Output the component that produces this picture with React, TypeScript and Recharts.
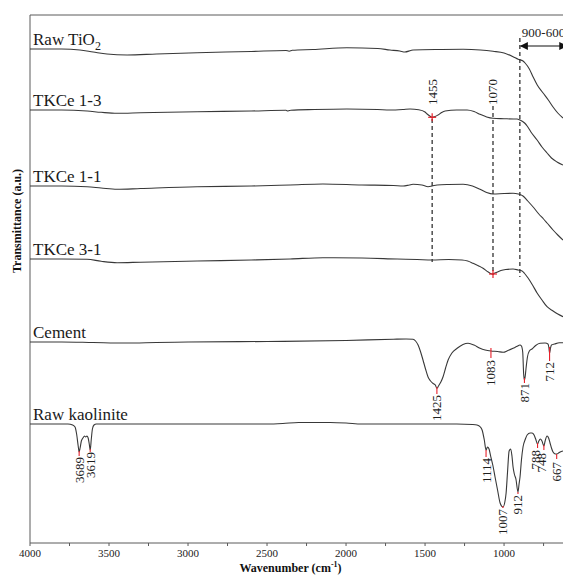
import React from 'react';
import { LineChart, Line, XAxis, YAxis, ReferenceLine, ReferenceDot } from 'recharts';

const FONT = '"Liberation Serif", "Times New Roman", serif';

// ---- data (wavenumber in cm-1, transmittance change in a.u. relative to each baseline) ----
const seriesNames = ['Raw TiO2', 'TKCe 1-3', 'TKCe 1-1', 'TKCe 3-1', 'Cement', 'Raw kaolinite'];
const seriesOffsets = [494, 433, 357, 284, 201, 119];

const tio2Wave = [4000,3800,3684,3600,3513,3386,3200,2943,2600,2380,2360,2340,2209,1994,1800,1722,1660,1627,1590,1576,1400,1259,1150,1070,1000,943,911,880,867,840,816,790,753,720,690,660,627];
const tio2T = [0,0,-1,-3,-5,-6,-5,-3.7,-2.5,-1.5,-2.2,-1.3,-0.5,1.3,0.5,-1,-2,-3,-1.5,-1,-0.5,-0.3,-1,-2.3,-4,-7.7,-10.3,-12,-14,-20,-28,-36,-44,-51,-58,-64,-69];

const tk13Wave = [4000,3800,3639,3550,3449,3300,2943,2600,2380,2367,2350,2200,1994,1800,1722,1640,1595,1540,1500,1487,1470,1455,1440,1418,1395,1373,1300,1234,1190,1152,1110,1070,1000,940,918,900,870,854,830,791,760,728,700,665,627];
const tk13T = [0,0,-1,-2.3,-3.3,-2.8,-1.7,-1,-0.3,-1,-0.2,0.5,1,0.5,0,0.5,1,0.3,-2,-4,-6,-7.3,-6.8,-5,-2.5,-1,0,0,-1.5,-4.3,-7,-8.3,-8.7,-9,-9,-10,-13,-16,-22,-30,-37,-43,-48,-52,-55];

const tk11Wave = [4000,3800,3639,3550,3449,3300,2943,2600,2354,2146,1900,1700,1639,1600,1576,1520,1481,1455,1424,1350,1259,1200,1152,1110,1070,1000,943,910,880,850,816,780,750,728,690,660,627];
const tk11T = [0,0,-0.7,-2,-3.3,-2.5,-0.7,0,1,2,1,0.5,0,1,1.7,1,-0.7,0,1,1.5,1.7,0,-3.3,-6.5,-8,-7.5,-7.3,-8,-10,-15,-21,-28,-33,-37,-44,-49,-54];

const tk31Wave = [4000,3800,3639,3550,3449,3300,2943,2600,2354,2146,1900,1677,1550,1456,1350,1266,1230,1196,1160,1133,1100,1076,1050,1020,990,943,911,886,870,848,820,791,760,728,690,660,627];
const tk31T = [0,0,-0.3,-2.3,-3.7,-3.2,-2,-1,0,1.3,1,0,-0.5,-1,-0.5,-1,-2,-4.3,-7,-9.3,-13,-15,-13.5,-11.5,-10.5,-10,-11,-12,-14.5,-19,-26,-34,-41,-47.7,-52,-55,-57.7];

const cementWave = [4000,3800,3600,3400,3200,3000,2500,2000,1700,1620,1576,1560,1544,1530,1513,1497,1481,1465,1449,1435,1425,1415,1400,1386,1370,1354,1330,1297,1260,1228,1190,1152,1120,1083,1040,1006,975,943,920,899,890,882,876,871,866,860,852,840,823,800,772,740,722,716,712,706,700,680,650,627];
const cementT = [0,0,-0.5,-1,-0.5,0,0.5,1.5,2.8,3,2.7,1,-3,-9,-18,-27,-35,-39,-41.5,-43,-46.3,-44,-40,-34.7,-26,-18,-11,-6.3,-2.5,-1.3,-3,-6.3,-8,-9,-9.5,-10.3,-8.5,-6.3,-4.5,-3,-4,-10,-32,-38,-34,-25,-15,-9,-7,-3.5,-1.3,-1,-2,-6,-11.3,-6,-3,-2,-0.8,-0.7];

const kaoWave = [4000,3760,3730,3715,3705,3695,3689,3683,3675,3665,3655,3648,3640,3632,3625,3619,3612,3605,3595,3580,2500,2400,2300,2100,2000,1900,1300,1200,1171,1150,1139,1125,1114,1105,1095,1085,1070,1057,1040,1025,1007,995,987,978,968,958,950,943,935,925,912,905,899,890,880,865,854,835,823,810,800,788,780,770,760,748,740,728,718,709,700,690,675,667,655,645,627];
const kaoT = [0,0,-1,-3,-10,-22,-28,-24,-17,-14,-12,-13,-12,-14,-20,-26,-15,-5,-1,0,0,0.5,1.5,1.5,1,0,0,-0.5,-1,-3,-6,-16,-26,-23,-25,-32,-42,-53,-67,-79,-83,-78,-69,-48,-27,-25,-32,-43,-50,-55,-68,-60,-53,-36,-23,-15,-11,-9,-9,-11,-15,-20,-17,-15,-17,-22,-17,-12,-14,-19,-24,-28,-30,-30,-29,-28,-27];

const xTicks = [4000,3750,3500,3250,3000,2750,2500,2250,2000,1750,1500,1250,1000,750];

// peak labels
const upperPeaks = ['1455', '1070'];
const cementPeaks = ['1425', '1083', '871', '712'];
const kaoPeaks = ['3689', '3619', '1114', '1007', '912', '788', '748', '667'];

// ---- annotation layout ----
const upperLabelLayout = [{ w: 1455, y: 438 }, { w: 1070, y: 438 }];
const crossLayout = [{ w: 1455, y: 425.7 }, { w: 1070, y: 269 }];
const dashedLayout = [
  { w: 1455, y1: 424, y2: 281 },
  { w: 1070, y1: 437, y2: 268 },
  { w: 900, y1: 505, y2: 266 },
];
const cementLayout = [
  { w: 1425, top: 148, r: [156, 149] },
  { w: 1083, top: 183, r: [195, 185] },
  { w: 871, top: 160, r: [165, 160] },
  { w: 712, top: 181, r: [196, 182] },
];
const kaoLayout = [
  { w: 3689, lw: 3689, top: 86, r: [92, 87] },
  { w: 3619, lw: 3619, top: 91, r: [94, 91] },
  { w: 1114, lw: 1114, top: 85, r: [93, 86] },
  { w: 1007, lw: 1007, top: 34, r: [37, 35] },
  { w: 912, lw: 912, top: 48, r: [51, 49] },
  { w: 788, lw: 804, top: 93, r: [100, 95] },
  { w: 748, lw: 760, top: 90, r: [98, 93] },
  { w: 667, lw: 665, top: 81, r: [89, 84] },
];

const build = (w: number[], t: number[], off: number) => w.map((x, i) => ({ w: x, v: off + t[i] }));
const spectra = [
  build(tio2Wave, tio2T, seriesOffsets[0]),
  build(tk13Wave, tk13T, seriesOffsets[1]),
  build(tk11Wave, tk11T, seriesOffsets[2]),
  build(tk31Wave, tk31T, seriesOffsets[3]),
  build(cementWave, cementT, seriesOffsets[4]),
  build(kaoWave, kaoT, seriesOffsets[5]),
];

const LINE = '#383838';
const AXIS = '#5a5a5a';

const XTick = (props: any) => {
  const { x, y, payload } = props;
  if (payload.value % 500 !== 0) return <g />;
  return (
    <text x={x} y={y} dy="0.71em" textAnchor="middle" fontSize={11} fontFamily={FONT} fill="#222">
      {payload.value}
    </text>
  );
};

const rotText = (text: string, anchor: 'start' | 'end', size = 13) => (p: any) => (
  <text
    x={p.cx}
    y={p.cy}
    transform={`rotate(-90 ${p.cx} ${p.cy})`}
    textAnchor={anchor}
    dominantBaseline="central"
    fontSize={size}
    fontFamily={FONT}
    fill="#1e1e1e"
  >
    {text}
  </text>
);

const seriesLabel = (name: string) => (p: any) => {
  const sub = name.endsWith('TiO2');
  return (
    <text x={p.cx + 3} y={p.cy - 4} fontSize={17} fontFamily={FONT} fill="#1a1a1a">
      {sub ? 'Raw TiO' : name}
      {sub ? <tspan dy={5} fontSize={12}>2</tspan> : null}
    </text>
  );
};

const cross = (p: any) => (
  <g stroke="#e8202a" strokeWidth={1.2}>
    <line x1={p.cx - 4} y1={p.cy} x2={p.cx + 4} y2={p.cy} />
    <line x1={p.cx} y1={p.cy - 4} x2={p.cx} y2={p.cy + 4} />
  </g>
);

const arrowLeft = (p: any) => (
  <polygon points={`${p.cx},${p.cy} ${p.cx + 8},${p.cy - 4} ${p.cx + 8},${p.cy + 4}`} fill="#111" />
);
const arrowRight = (p: any) => (
  <polygon points={`${p.cx},${p.cy} ${p.cx - 8},${p.cy - 4} ${p.cx - 8},${p.cy + 4}`} fill="#111" />
);

export default function App() {
  return (
    <div style={{ position: 'fixed', left: 0, top: 0, width: 563, height: 575, background: '#fff' }}>
      <LineChart width={563} height={575} margin={{ top: 15, right: 0, left: 30, bottom: 2 }}>
        <XAxis
          dataKey="w"
          type="number"
          domain={[627, 4000]}
          reversed
          ticks={xTicks}
          interval={0}
          tick={<XTick />}
          tickSize={3}
          tickMargin={3}
          tickLine={{ stroke: AXIS }}
          axisLine={{ stroke: AXIS }}
          height={30}
          allowDataOverflow
          label={{
            content: (p: any) => {
              const vb = p.viewBox || { x: 30, y: 543, width: 533 };
              const cx = vb.x + vb.width / 2 - 6;
              return (
                <text x={cx} y={vb.y + 29} textAnchor="middle" fontSize={12} fontWeight="bold" fontFamily={FONT} fill="#111">
                  Wavenumber (cm<tspan dy={-5} fontSize={8}>-1</tspan>
                  <tspan dy={5}>)</tspan>
                </text>
              );
            },
          }}
        />
        <YAxis type="number" domain={[0, 528]} hide allowDataOverflow />

        <ReferenceLine x={4000} stroke={AXIS} />
        <ReferenceLine y={528} stroke={AXIS} />

        {spectra.map((d, i) => (
          <Line
            key={seriesNames[i]}
            data={d}
            dataKey="v"
            type="monotone"
            stroke={LINE}
            strokeWidth={1.1}
            dot={false}
            activeDot={false}
            isAnimationActive={false}
          />
        ))}

        {/* dashed guides */}
        {dashedLayout.map((d) => (
          <ReferenceLine
            key={'dash' + d.w}
            segment={[{ x: d.w, y: d.y1 }, { x: d.w, y: d.y2 }]}
            stroke="#333"
            strokeWidth={1.3}
            strokeDasharray="4 3"
          />
        ))}

        {/* 900-600 arrow */}
        <ReferenceLine segment={[{ x: 895, y: 497 }, { x: 605, y: 497 }]} stroke="#111" strokeWidth={1.2} ifOverflow="visible" />
        <ReferenceDot x={900} y={497} r={1} shape={arrowLeft} ifOverflow="visible" />
        <ReferenceDot x={600} y={497} r={1} shape={arrowRight} ifOverflow="visible" />
        <ReferenceDot
          x={900}
          y={506}
          r={1}
          ifOverflow="visible"
          shape={(p: any) => (
            <text x={p.cx + 2} y={p.cy} fontSize={13} fontFamily={FONT} fill="#1e1e1e">
              900-600
            </text>
          )}
        />

        {/* series names */}
        {seriesNames.map((n, i) => (
          <ReferenceDot key={'name' + n} x={4000} y={seriesOffsets[i]} r={1} shape={seriesLabel(n)} ifOverflow="visible" />
        ))}

        {/* y axis title */}
        <ReferenceDot
          x={4000}
          y={322}
          r={1}
          ifOverflow="visible"
          shape={(p: any) => (
            <text
              x={p.cx - 13}
              y={p.cy}
              transform={`rotate(-90 ${p.cx - 13} ${p.cy})`}
              textAnchor="middle"
              dominantBaseline="central"
              fontSize={12}
              fontWeight="bold"
              fontFamily={FONT}
              fill="#111"
            >
              Transmittance (a.u.)
            </text>
          )}
        />

        {/* upper peak labels */}
        {upperPeaks.map((t, i) => (
          <ReferenceDot key={'up' + t} x={upperLabelLayout[i].w} y={upperLabelLayout[i].y} r={1} shape={rotText(t, 'start')} />
        ))}
        {crossLayout.map((c) => (
          <ReferenceDot key={'cross' + c.w} x={c.w} y={c.y} r={1} shape={cross} />
        ))}

        {/* cement peaks */}
        {cementPeaks.map((t, i) => (
          <ReferenceLine
            key={'cr' + t}
            segment={[{ x: cementLayout[i].w, y: cementLayout[i].r[0] }, { x: cementLayout[i].w, y: cementLayout[i].r[1] }]}
            stroke="#e8202a"
            strokeWidth={1.1}
          />
        ))}
        {cementPeaks.map((t, i) => (
          <ReferenceDot key={'cl' + t} x={cementLayout[i].w} y={cementLayout[i].top} r={1} shape={rotText(t, 'end')} />
        ))}

        {/* kaolinite peaks */}
        {kaoPeaks.map((t, i) => (
          <ReferenceLine
            key={'kr' + t}
            segment={[{ x: kaoLayout[i].w, y: kaoLayout[i].r[0] }, { x: kaoLayout[i].w, y: kaoLayout[i].r[1] }]}
            stroke="#e8202a"
            strokeWidth={1.1}
          />
        ))}
        {kaoPeaks.map((t, i) => (
          <ReferenceDot key={'kl' + t} x={kaoLayout[i].lw} y={kaoLayout[i].top} r={1} shape={rotText(t, 'end')} />
        ))}
      </LineChart>
    </div>
  );
}
